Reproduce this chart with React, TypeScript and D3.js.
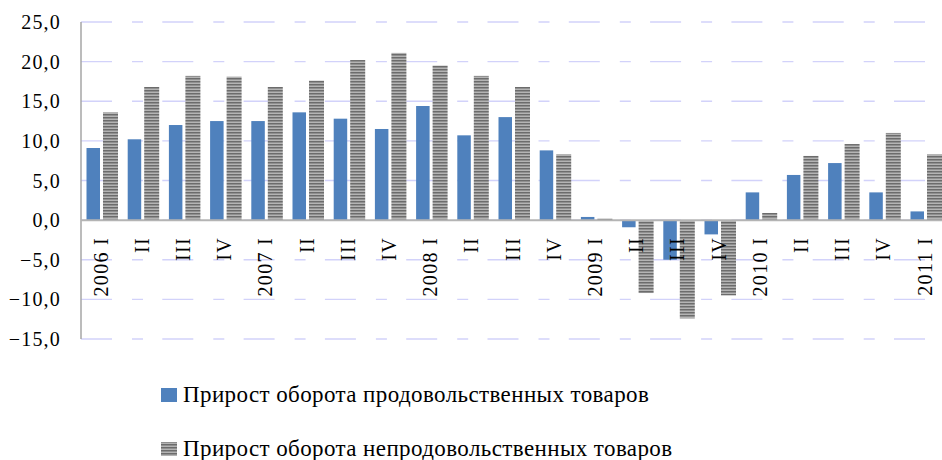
import React from 'react';
import * as d3 from 'd3';

const quarters = [
  '2006 I', 'II', 'III', 'IV',
  '2007 I', 'II', 'III', 'IV',
  '2008 I', 'II', 'III', 'IV',
  '2009 I', 'II', 'III', 'IV',
  '2010 I', 'II', 'III', 'IV',
  '2011 I',
];

const foodGrowth = [
  9.1, 10.2, 12.0, 12.5,
  12.5, 13.6, 12.8, 11.5,
  14.4, 10.7, 13.0, 8.8,
  0.4, -0.9, -5.0, -1.8,
  3.5, 5.7, 7.2, 3.5,
  1.1,
];

const nonFoodGrowth = [
  13.6, 16.8, 18.2, 18.1,
  16.8, 17.6, 20.2, 21.1,
  19.5, 18.2, 16.8, 8.3,
  0.2, -9.2, -12.4, -9.5,
  0.9, 8.1, 9.6, 11.0,
  8.3,
];

const yTicks = [25, 20, 15, 10, 5, 0, -5, -10, -15];

const seriesNames = [
  'Прирост оборота продовольственных товаров',
  'Прирост оборота непродовольственных товаров',
];

const W = 942;
const H = 460;
const left = 81;
const step = 41.2;
const font = '"Liberation Serif", "Times New Roman", serif';
const blue = '#4f81bd';

export default function App() {
  const x = d3
    .scaleBand<number>()
    .domain(quarters.map((_, i) => i))
    .range([left, left + step * quarters.length])
    .padding(0);
  const y = d3.scaleLinear().domain([-15, 25]).range([339, 22]);
  const fmt = (v: number) => d3.format('.1f')(v).replace('.', ',').replace('-', '−');

  return (
    <svg
      width={W}
      height={H}
      style={{ position: 'absolute', left: 0, top: 0, background: '#fff' }}
    >
      <defs>
        <pattern id="stripes" width={4} height={3} patternUnits="userSpaceOnUse">
          <rect width={4} height={3} fill="#b4b4b4" />
          <rect width={4} height={1.5} fill="#6c6c6c" />
        </pattern>
      </defs>

      {/* gridlines */}
      {yTicks.map((t) => (
        <line
          key={t}
          x1={left}
          x2={W}
          y1={y(t)}
          y2={y(t)}
          stroke="#d2d2fa"
          strokeWidth={1.3}
          strokeDasharray="31,20,11,19.3"
        />
      ))}

      {/* y tick labels */}
      {yTicks.map((t) => (
        <text
          key={t}
          x={61}
          y={y(t) + 7}
          textAnchor="end"
          fontFamily={font}
          fontSize={20}
          letterSpacing={1.2}
          fill="#000"
        >
          {fmt(t)}
        </text>
      ))}

      {/* bars */}
      {quarters.map((q, i) => {
        const x0 = x(i)!;
        const a = foodGrowth[i];
        const b = nonFoodGrowth[i];
        return (
          <g key={i}>
            <rect
              x={x0 + 5.5}
              width={13.5}
              y={Math.min(y(a), y(0))}
              height={Math.abs(y(a) - y(0))}
              fill={blue}
            />
            <rect
              x={x0 + 22}
              width={15}
              y={Math.min(y(b), y(0))}
              height={Math.abs(y(b) - y(0))}
              fill="url(#stripes)"
            />
          </g>
        );
      })}

      {/* axes */}
      <line x1={left} x2={left} y1={y(25)} y2={y(-15)} stroke="#a6a6a6" strokeWidth={1.5} />
      <line x1={left} x2={W} y1={y(0)} y2={y(0)} stroke="#b4b4b4" strokeWidth={2} />

      {/* category labels */}
      {quarters.map((q, i) => {
        const cx = x(i)! + x.bandwidth() / 2 + 6;
        return (
          <text
            key={i}
            transform={`translate(${cx},237) rotate(-90)`}
            textAnchor="end"
            fontFamily={font}
            fontSize={20}
            letterSpacing={1.3}
            fill="#000"
          >
            {q}
          </text>
        );
      })}

      {/* legend */}
      {seriesNames.map((name, i) => {
        const ly = 402 + i * 54;
        return (
          <g key={name}>
            <rect
              x={161}
              y={ly - 14}
              width={16}
              height={14}
              fill={i === 0 ? blue : 'url(#stripes)'}
            />
            <text
              x={183}
              y={ly}
              fontFamily={font}
              fontSize={23}
              letterSpacing={0.4}
              fill="#000"
            >
              {name}
            </text>
          </g>
        );
      })}
    </svg>
  );
}
